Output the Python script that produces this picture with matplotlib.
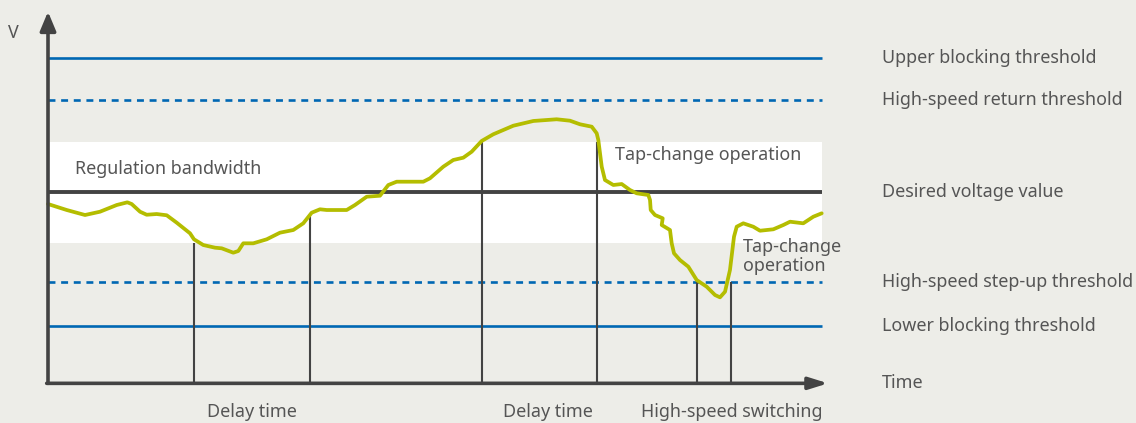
import matplotlib
matplotlib.use("Agg")
import matplotlib.pyplot as plt

plt.rcParams['font.family'] = ['Noto Sans', 'DejaVu Sans']
plt.rcParams['lines.scale_dashes'] = False

# voltage in % of desired value, time in arbitrary units (0..100)
upper_block = 115.0
hs_return = 110.3
band_top = 105.6
desired = 100.0
band_bottom = 94.3
hs_stepup = 89.9
lower_block = 85.0
v_origin = 78.54
v_arrow = 120.16
t_end = 100.0
t_arrow = 100.78

# measured voltage
t = [0.0, 2.42, 4.78, 6.72, 8.88, 10.25, 10.81, 11.89, 12.75, 14.04, 15.34, 16.63,
     18.35, 18.86, 20.06, 21.58, 22.44, 23.94, 24.59, 25.23, 26.52, 28.26, 29.97,
     31.69, 32.98, 34.07, 35.14, 36.01, 38.59, 39.66, 41.18, 42.89, 43.97, 45.05,
     48.49, 49.35, 51.07, 52.36, 53.66, 54.74, 56.03, 57.53, 60.12, 62.71, 65.72,
     67.44, 68.73, 70.25, 70.89, 71.10, 71.54, 71.96, 73.04, 74.12, 75.19, 76.06,
     77.56, 77.78, 77.87, 78.42, 79.42, 79.29, 80.36, 80.58, 80.88, 81.65, 82.73,
     83.81, 85.10, 86.18, 86.82, 87.47, 88.11, 88.63, 88.98, 89.83, 91.12, 91.99,
     93.71, 95.00, 95.87, 97.58, 98.88, 99.96]
v = [98.62, 97.95, 97.39, 97.76, 98.51, 98.81, 98.62, 97.76, 97.42, 97.50, 97.36, 96.53,
     95.34, 94.67, 94.03, 93.73, 93.66, 93.17, 93.36, 94.22, 94.22, 94.67, 95.41,
     95.71, 96.46, 97.65, 98.03, 97.95, 97.95, 98.51, 99.44, 99.55, 100.75, 101.12,
     101.12, 101.50, 102.80, 103.55, 103.81, 104.48, 105.68, 106.43, 107.39, 107.92, 108.11,
     107.95, 107.55, 107.28, 106.54, 105.79, 102.80, 101.31, 100.75, 100.86, 100.19, 99.82,
     99.63, 99.07, 97.95, 97.39, 97.02, 96.27, 95.71, 94.22, 93.10, 92.35, 91.60,
     90.11, 89.36, 88.43, 88.17, 88.80, 91.23, 94.96, 96.08, 96.46, 96.08, 95.63,
     95.79, 96.27, 96.64, 96.46, 97.20, 97.58]

# event markers (time, top of marker line)
event_t = [18.86, 33.85, 56.03, 70.93, 83.81, 88.20]
event_top = [94.3, 97.4, 105.6, 105.6, 89.9, 89.9]

right_labels = ['Upper blocking threshold', 'High-speed return threshold',
                'Desired voltage value', 'High-speed step-up threshold',
                'Lower blocking threshold', 'Time']
right_y = [upper_block, hs_return, desired, hs_stepup, lower_block, v_origin]

bottom_labels = ['Delay time', 'Delay time', 'High-speed switching']
bottom_x = [26.3, 64.6, 88.3]

bg = '#EDEDE8'
dark = '#434343'
blue = '#0067B3'
green = '#B4BD00'
txt = '#555555'

fig = plt.figure(figsize=(11.36, 4.23), dpi=100, facecolor=bg)
ax = fig.add_axes([0, 0, 1, 1])
ax.set_facecolor(bg)
ax.set_xlim(-48 / 7.74, 1088 / 7.74)
ax.set_ylim(100 - 231.3 / 8.93, 100 + 191.7 / 8.93)
ax.axis('off')

ax.fill_between([0, t_end], band_bottom, band_top, color='white', lw=0, zorder=1)

ax.hlines([upper_block, lower_block], 0, t_end, color=blue, lw=1.9, zorder=2)
ax.hlines([hs_return, hs_stepup], 0, t_end, color=blue, lw=1.9,
          linestyles=[(0, (5.0, 4.1))], zorder=2)
ax.hlines(desired, 0, t_end, color=dark, lw=2.8, zorder=3)

ax.vlines(event_t, v_origin, event_top, color=dark, lw=1.5, zorder=3)

ax.plot(t, v, color=green, lw=2.7, solid_joinstyle='round', solid_capstyle='round', zorder=5)

# axes with arrows
ax.annotate('', xy=(0, v_arrow), xytext=(0, v_origin),
            arrowprops=dict(arrowstyle='-|>,head_length=1.15,head_width=0.48',
                            color=dark, lw=2.6, shrinkA=0, shrinkB=0), zorder=6)
ax.annotate('', xy=(t_arrow, v_origin), xytext=(-0.17, v_origin),
            arrowprops=dict(arrowstyle='-|>,head_length=1.15,head_width=0.36',
                            color=dark, lw=2.6, shrinkA=0, shrinkB=0), zorder=6)

fs = 12.9
ax.text(-5.2, 117.77, 'V', color=txt, fontsize=fs, va='center', ha='left')
ax.text(3.5, 102.5, 'Regulation bandwidth', color=txt, fontsize=fs, va='center')
ax.text(73.3, 104.1, 'Tap-change operation', color=txt, fontsize=fs, va='center')
ax.text(89.8, 92.74, 'Tap-change\noperation', color=txt, fontsize=fs, va='center',
        linespacing=1.05)

for lab, y in zip(right_labels, right_y):
    ax.text(107.75, y, lab, color=txt, fontsize=fs, va='center', ha='left')

for lab, x in zip(bottom_labels, bottom_x):
    ax.text(x, 75.33, lab, color=txt, fontsize=fs, va='center', ha='center')

fig.savefig('out.png', dpi=100, facecolor=bg)
